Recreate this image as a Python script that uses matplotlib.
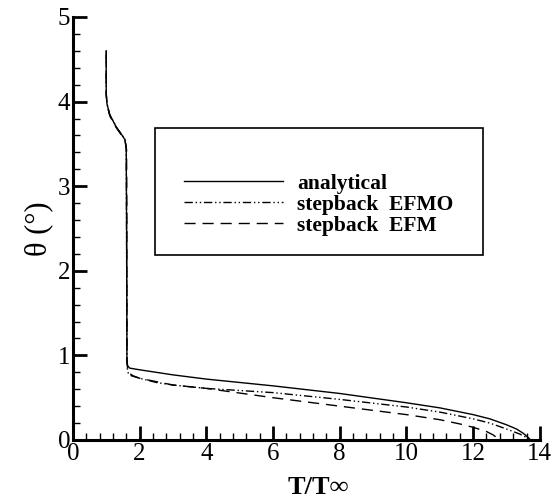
import numpy as np
import matplotlib.pyplot as plt
from matplotlib.patches import Rectangle

plt.rcParams['font.family'] = ['Liberation Serif', 'DejaVu Serif']

# shared upper branch (nose region)
T_top = [1.00, 1.00, 1.02, 1.10, 1.30, 1.48, 1.56, 1.60, 1.61, 1.62]
th_top = [4.60, 4.10, 3.98, 3.85, 3.70, 3.60, 3.55, 3.45, 2.50, 1.20]

# analytical
T_an = T_top + [1.62, 1.64, 1.70, 2.0, 3.0, 4.0, 6.0, 8.0, 10.0, 11.0, 12.0, 12.5, 13.0, 13.3, 13.5, 13.65, 13.72]
th_an = th_top + [0.95, 0.88, 0.85, 0.83, 0.77, 0.72, 0.64, 0.55, 0.44, 0.38, 0.30, 0.25, 0.18, 0.13, 0.08, 0.03, 0.0]

# stepback EFMO
T_efmo = T_top + [1.62, 1.64, 1.75, 2.0, 2.5, 3.0, 4.0, 6.0, 8.0, 10.0, 11.0, 12.0, 12.5, 13.0, 13.4, 13.6, 13.70]
th_efmo = th_top + [0.95, 0.80, 0.76, 0.73, 0.68, 0.65, 0.61, 0.56, 0.48, 0.39, 0.33, 0.25, 0.20, 0.13, 0.07, 0.03, 0.0]

# stepback EFM
T_efm = [1.00, 1.00, 1.03, 1.12, 1.32, 1.50, 1.57, 1.61, 1.62, 1.62,
         1.62, 1.65, 1.80, 2.0, 3.0, 4.0, 6.0, 8.0, 10.0, 11.0, 11.6, 12.0, 12.4, 12.6, 12.7, 12.75]
th_efm = [4.55, 4.08, 3.95, 3.82, 3.68, 3.58, 3.53, 3.43, 2.50, 1.20,
          0.95, 0.80, 0.76, 0.73, 0.65, 0.61, 0.50, 0.40, 0.30, 0.24, 0.19, 0.15, 0.10, 0.06, 0.03, 0.0]

fig = plt.figure(figsize=(5.52, 5.0), dpi=100)
ax = fig.add_axes([0.132, 0.12, 0.846, 0.846])

ax.plot(T_an, th_an, color='black', lw=1.0, label='analytical')
ax.plot(T_efmo, th_efmo, color='black', lw=1.0, linestyle=(0, (6, 2, 1, 2, 1, 2)),
        label='stepback  EFMO')
ax.plot(T_efm, th_efm, color='black', lw=1.0, linestyle=(0, (8, 5)),
        label='stepback  EFM')

ax.set_xlim(0, 14)
ax.set_ylim(0, 5)
ax.set_xticks(np.arange(0, 15, 2))
ax.set_xticks(np.arange(0, 14.01, 0.4), minor=True)
ax.set_yticks(np.arange(0, 6, 1))
ax.set_yticks(np.arange(0, 5.01, 0.2), minor=True)

for s in ['top', 'right']:
    ax.spines[s].set_visible(False)
for s in ['left', 'bottom']:
    ax.spines[s].set_linewidth(2.2)

ax.tick_params(which='major', direction='in', length=10, width=2, labelsize=18, pad=2)
ax.tick_params(which='minor', direction='in', length=5, width=1)

ax.set_xlabel('T/T∞', fontsize=19, fontweight='bold')
ax.xaxis.set_label_coords(0.525, -0.085)
ax.set_ylabel('θ (°)', fontsize=22, labelpad=3)

# legend box
ax.add_patch(Rectangle((0.176, 0.437), 0.702, 0.301, transform=ax.transAxes,
                       fill=False, edgecolor='black', lw=1.2))
ax.legend(loc='center', bbox_to_anchor=(0.527, 0.556), frameon=False,
          prop={'family': 'Liberation Serif', 'weight': 'bold', 'size': 15.5},
          handlelength=4.6, handletextpad=0.65, labelspacing=0.05)

fig.savefig('out.png', dpi=100)
